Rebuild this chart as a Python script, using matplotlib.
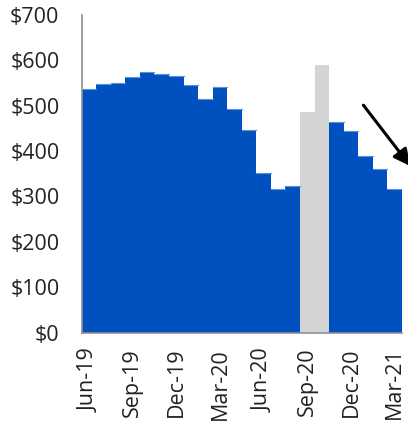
import matplotlib.pyplot as plt
from matplotlib.ticker import FuncFormatter

plt.rcParams['font.family'] = ['Open Sans', 'DejaVu Sans']

months = ['Jun-19', 'Jul-19', 'Aug-19', 'Sep-19', 'Oct-19', 'Nov-19', 'Dec-19',
          'Jan-20', 'Feb-20', 'Mar-20', 'Apr-20', 'May-20', 'Jun-20', 'Jul-20',
          'Aug-20', 'Sep-20', 'Oct-20', 'Nov-20', 'Dec-20', 'Jan-21', 'Feb-21', 'Mar-21']
values = [536, 548, 549, 564, 574, 571, 565, 545, 514, 541, 493, 446, 352, 317,
          324, 486, 590, 463, 444, 389, 360, 316]
highlight = ['Sep-20', 'Oct-20']
tick_labels = ['Jun-19', 'Sep-19', 'Dec-19', 'Mar-20', 'Jun-20', 'Sep-20', 'Dec-20', 'Mar-21']

blue = '#0050c0'
gray = '#d4d4d4'

fig = plt.figure(figsize=(4.08, 4.22), dpi=100)
ax = fig.add_axes([0.2, 0.212, 0.785, 0.7525])

x = list(range(len(months)))
colors = [gray if m in highlight else blue for m in months]
ax.bar(x, values, width=1.0, color=colors, linewidth=0)
# thin lighter edge on top of blue bars
for i, v in enumerate(values):
    if months[i] not in highlight:
        ax.plot([i - 0.5, i + 0.5], [v, v], color='#5a8fdc', linewidth=0.8)

ax.set_xlim(-0.5, len(months) - 0.5)
ax.set_ylim(0, 700)
ax.set_yticks(range(0, 701, 100))
ax.yaxis.set_major_formatter(FuncFormatter(lambda v, p: f'${int(v)}'))
ax.set_xticks([months.index(t) for t in tick_labels])
ax.set_xticklabels(tick_labels, rotation=90)
ax.tick_params(axis='both', length=0, labelsize=15.5, colors='#222222')
ax.tick_params(axis='x', pad=11)
ax.tick_params(axis='y', pad=16)

for s in ['top', 'right']:
    ax.spines[s].set_visible(False)
for s in ['left', 'bottom']:
    ax.spines[s].set_color('#909090')
    ax.spines[s].set_linewidth(1.2)

# downward trend arrow
ax.annotate('', xy=(22.2, 362), xytext=(18.74, 506),
            arrowprops=dict(arrowstyle='-|>,head_length=1.0,head_width=0.5',
                            color='black', lw=2.2),
            annotation_clip=False)

fig.savefig('out.png', dpi=100)
